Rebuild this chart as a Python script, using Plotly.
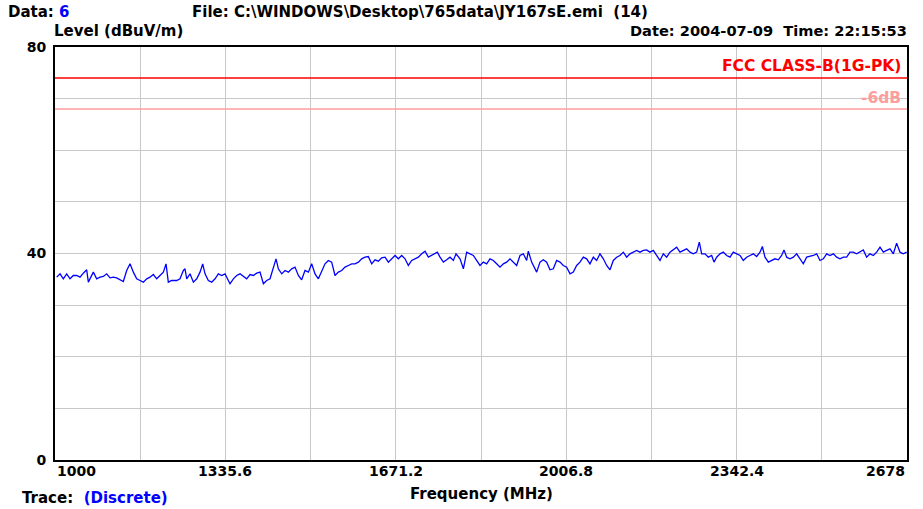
import plotly.graph_objects as go

# ---- data ----
freq_mhz = [
    1003.3, 1009.9, 1016.4, 1023.0, 1029.6, 1036.1, 1042.7, 1049.3, 1055.8, 1062.4,
    1065.7, 1075.5, 1082.1, 1088.7, 1095.2, 1101.8, 1108.4, 1114.9, 1121.5, 1128.1,
    1134.6, 1141.2, 1147.8, 1154.3, 1160.9, 1167.4, 1174.0, 1180.6, 1187.1, 1193.7,
    1200.3, 1206.8, 1213.4, 1218.7, 1223.2, 1229.8, 1239.7, 1246.2, 1252.8, 1256.1,
    1259.4, 1265.9, 1272.5, 1279.1, 1285.6, 1290.9, 1295.5, 1302.0, 1308.6, 1315.2,
    1321.7, 1328.3, 1334.9, 1341.4, 1344.7, 1351.3, 1357.8, 1364.4, 1371.0, 1377.5,
    1384.1, 1390.7, 1397.2, 1403.8, 1410.4, 1416.9, 1423.5, 1430.0, 1435.3, 1439.9,
    1446.5, 1453.0, 1459.6, 1466.2, 1472.7, 1479.3, 1485.8, 1492.4, 1499.0, 1505.5,
    1512.1, 1518.7, 1525.2, 1531.8, 1538.4, 1544.9, 1551.5, 1558.1, 1564.6, 1571.2,
    1577.8, 1584.3, 1590.9, 1597.5, 1604.0, 1610.6, 1617.1, 1623.7, 1630.3, 1636.8,
    1643.4, 1650.0, 1656.5, 1663.1, 1669.7, 1676.2, 1682.8, 1689.4, 1695.9, 1702.5,
    1709.1, 1715.6, 1722.2, 1728.8, 1735.3, 1741.9, 1748.4, 1753.0, 1758.3, 1764.9,
    1771.4, 1778.0, 1784.6, 1789.8, 1797.7, 1804.3, 1810.8,
    1817.3, 1823.9, 1830.4, 1837.0, 1843.6, 1850.1, 1856.7, 1863.3, 1869.8, 1876.4,
    1883.0, 1889.5, 1896.1, 1902.6, 1909.2, 1915.8, 1922.3, 1928.9, 1932.2, 1938.8,
    1945.3, 1948.6, 1955.2, 1961.7, 1968.3, 1974.9, 1981.4, 1988.0, 1994.6, 2001.1,
    2007.7, 2014.3, 2020.8, 2027.4, 2033.9, 2040.5, 2047.1, 2053.6, 2060.2, 2066.8,
    2073.3, 2079.9, 2086.5, 2093.0, 2099.6, 2106.2, 2112.7, 2119.3, 2125.9, 2132.4,
    2139.0, 2145.6, 2152.1, 2158.7, 2165.2, 2171.8, 2178.4, 2184.9, 2191.5, 2198.1,
    2204.6, 2211.2, 2217.8, 2224.3, 2230.9, 2237.5, 2244.0, 2250.6, 2257.2, 2263.7,
    2269.0, 2273.6, 2280.1, 2286.7, 2293.3, 2297.9, 2303.1, 2309.7, 2316.2, 2322.8,
    2329.4, 2335.9, 2342.5, 2349.1, 2355.6, 2362.2, 2368.8, 2375.3, 2381.9, 2388.5,
    2393.1, 2398.3, 2404.9, 2411.4, 2418.0, 2424.6, 2431.1, 2435.7, 2441.0, 2447.5,
    2454.1, 2460.7, 2467.2, 2473.8, 2480.4, 2486.9, 2493.5, 2500.1, 2506.6, 2513.2,
    2519.8, 2526.3, 2532.9, 2539.5, 2546.0, 2552.6, 2559.1, 2565.7, 2572.3, 2578.8,
    2585.4, 2592.0, 2598.5, 2605.1, 2611.7, 2618.2, 2624.8, 2631.4, 2637.9, 2644.5,
    2651.1, 2657.6, 2664.2, 2670.8, 2677.3,
]
level_dbuv = [
    35.42, 36.06, 35.10, 36.06, 35.10, 35.74, 35.74, 35.42, 36.19, 36.84,
    34.45, 36.39, 35.10, 35.42, 35.55, 36.06, 35.29, 35.42, 35.29, 34.90,
    34.58, 36.71, 38.00, 36.39, 35.10, 34.77, 34.45, 35.10, 35.42, 35.93,
    35.10, 35.74, 36.39, 38.00, 34.45, 34.77, 34.77, 35.10, 36.71, 37.03,
    35.10, 36.06, 34.45, 35.10, 36.39, 38.00, 36.06, 34.77, 34.45, 35.10,
    36.06, 35.74, 36.06, 34.77, 34.13, 35.10, 35.74, 36.06, 35.55, 35.10,
    35.93, 35.74, 36.19, 36.39, 34.13, 34.77, 35.10, 37.03, 38.97, 37.03,
    36.06, 36.71, 36.39, 37.03, 37.36, 35.74, 34.90, 36.71, 36.39, 38.00,
    36.06, 35.10, 36.71, 38.00, 38.65, 38.33, 35.74, 36.39, 36.71, 37.36,
    37.68, 38.00, 38.00, 38.33, 38.97, 39.29, 39.42, 38.00, 38.78, 38.52,
    39.17, 39.29, 38.33, 38.97, 39.62, 38.97, 39.62, 38.97, 37.68, 38.65,
    38.97, 39.29, 39.94, 40.46, 39.29, 39.62, 39.94, 40.26, 39.29, 38.33,
    38.78, 39.29, 38.65, 39.94, 38.97, 37.03, 40.26,
    39.94, 39.62, 38.65, 37.68, 38.33, 38.00, 38.97, 38.65, 38.00, 37.36,
    38.00, 38.33, 38.97, 38.33, 37.68, 39.62, 39.94, 38.65, 40.46, 38.33,
    37.03, 36.39, 38.33, 38.78, 38.33, 36.84, 37.03, 38.65, 38.33, 37.68,
    37.36, 36.06, 36.39, 37.68, 38.33, 39.29, 38.97, 38.00, 39.29, 38.65,
    39.94, 38.97, 37.68, 36.84, 38.65, 39.29, 39.62, 40.26, 39.29, 39.94,
    40.26, 40.60, 40.26, 40.60, 40.70, 40.26, 40.60, 39.62, 38.65, 39.94,
    39.29, 40.26, 40.70, 41.23, 40.26, 40.60, 40.90, 40.26, 39.94, 40.26,
    42.20, 39.94, 39.94, 39.29, 39.62, 38.33, 39.29, 39.94, 40.26, 39.62,
    39.29, 40.26, 39.94, 39.62, 38.65, 39.29, 39.62, 39.94, 39.42, 40.26,
    41.36, 39.29, 38.33, 38.65, 38.97, 38.78, 39.62, 40.70, 39.29, 38.97,
    39.29, 39.94, 38.97, 38.00, 39.29, 39.42, 39.62, 39.94, 38.65, 38.97,
    39.94, 39.62, 39.94, 39.29, 38.97, 39.29, 39.29, 40.26, 40.26, 39.94,
    40.26, 40.70, 39.29, 39.94, 39.62, 40.26, 41.23, 40.26, 40.60, 40.90,
    39.94, 42.00, 40.26, 39.94, 40.26,
]
limit_freq = [1000, 2678]
fcc_limit = [74, 74]
fcc_minus6 = [68, 68]

x_tick_vals = [1000, 1335.6, 1671.2, 2006.8, 2342.4, 2678]
x_tick_text = ["1000", "1335.6", "1671.2", "2006.8", "2342.4", "2678"]
y_tick_vals = [0, 40, 80]
y_tick_text = ["0", "40", "80"]

FONT = "DejaVu Sans"
fig = go.Figure()
fig.add_trace(go.Scatter(x=limit_freq, y=fcc_minus6, mode="lines",
                         line=dict(color="#ff9c9c", width=1.5), hoverinfo="skip"))
fig.add_trace(go.Scatter(x=limit_freq, y=fcc_limit, mode="lines",
                         line=dict(color="#ff0000", width=1.5), hoverinfo="skip"))
fig.add_trace(go.Scatter(x=freq_mhz, y=level_dbuv, mode="lines",
                         line=dict(color="#0000ff", width=1.3)))

fig.update_layout(
    width=923, height=509,
    margin=dict(l=55, r=16, t=47, b=49, autoexpand=False),
    paper_bgcolor="white", plot_bgcolor="white",
    showlegend=False,
    font=dict(family=FONT, size=14, color="black"),
)
fig.update_xaxes(
    range=[1000, 2678], tickmode="array", tickvals=x_tick_vals, ticktext=[""] * 6,
    showgrid=True, gridcolor="#c8c8c8", gridwidth=1,
    minor=dict(tick0=1000, dtick=167.8, showgrid=True, gridcolor="#c8c8c8", gridwidth=1),
    showline=True, linecolor="black", linewidth=2, mirror=True, ticks="", zeroline=False,
)
fig.update_yaxes(
    range=[0, 80], tickmode="array", tickvals=y_tick_vals, ticktext=y_tick_text,
    tickfont=dict(family=FONT, size=14, color="black", weight="bold"),
    showgrid=True, gridcolor="#c8c8c8", gridwidth=1,
    minor=dict(tick0=0, dtick=10, showgrid=True, gridcolor="#c8c8c8", gridwidth=1),
    showline=True, linecolor="black", linewidth=2, mirror=True, ticks="", zeroline=False,
    ticklabelstandoff=4,
)

def ann(text, x, y, xanchor="left", xref="paper", color="black", size=15):
    fig.add_annotation(text=text, x=x, y=y, xref=xref, yref="paper",
                       xanchor=xanchor, yanchor="middle", showarrow=False,
                       font=dict(family=FONT, size=size, color=color, weight="bold"))

for v, t in zip(x_tick_vals, x_tick_text):
    anchor = "left" if v == x_tick_vals[0] else ("right" if v == x_tick_vals[-1] else "center")
    ann(t, v, -0.027, xanchor=anchor, xref="x", size=14)

ann("Data: <span style='color:#0000ff'>6</span>", -0.0575, 1.085)
ann("File: C:\\WINDOWS\\Desktop\\765data\\JY167sE.emi  (14)", 0.158, 1.085)
ann("Level (dBuV/m)", -0.003, 1.039)
ann("Date: 2004-07-09  Time: 22:15:53", 1.002, 1.039, xanchor="right", size=14.6)
ann("FCC CLASS-B(1G-PK)", 0.9953, 0.954, xanchor="right", color="#ff0000", size=15.5)
ann("-6dB", 0.9953, 0.8765, xanchor="right", color="#ff9c9c", size=15.5)
ann("Frequency (MHz)", 0.5, -0.083, xanchor="center")
ann("Trace:  <span style='color:#0000ff'>(Discrete)</span>", -0.041, -0.092)

fig.write_html("out.html", config={"displayModeBar": False},
               post_script="document.body.style.margin='0';")
